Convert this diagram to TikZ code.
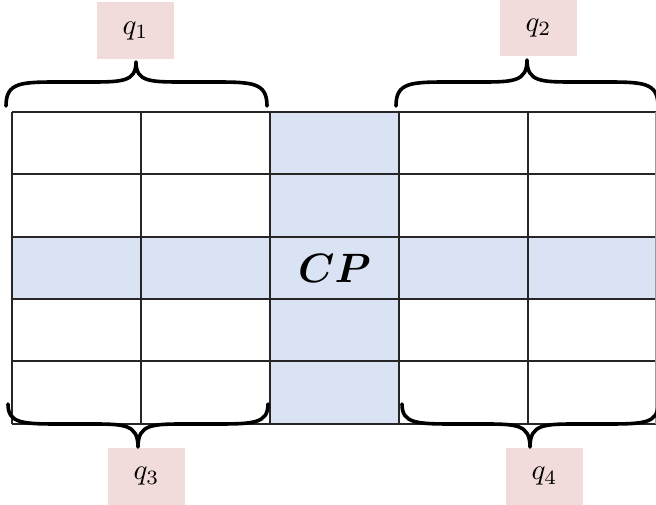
\documentclass[tikz,border=0pt]{standalone}
\usepackage{graphicx}
\usepackage{amsmath}
\usepackage{bm}
\definecolor{cpblue}{HTML}{DAE3F3}
\definecolor{qpink}{HTML}{F2DCDB}
\tikzset{
  gridline/.style={line width=2pt, black!85},
  qlabel/.style={fill=qpink, minimum width=77pt, minimum height=57pt, inner sep=0pt},
  bracepath/.style={line width=3.6pt, line cap=round, line join=round},
}
\newcommand\qtext[1]{\scalebox{2.9}{$#1$}}
% #1 left x, #2 right x, #3 tip x, #4 end y, #5 flat y, #6 tip y
\newcommand\qbrace[6]{%
  \draw[bracepath] (#1,#4) .. controls (#1,#5) and (#1+15,#5) .. (#1+55,#5)
    -- (#3-48,#5) .. controls (#3-14,#5) and (#3,#5) .. (#3,#6)
    .. controls (#3,#5) and (#3+14,#5) .. (#3+48,#5)
    -- (#2-55,#5) .. controls (#2-15,#5) and (#2,#5) .. (#2,#4);}
\begin{document}
\begin{tikzpicture}[x=1pt,y=-1pt]
\useasboundingbox (0,0) rectangle (656,505);
\clip (0,0) rectangle (656,505);
% shading
\fill[cpblue] (270,112) rectangle (399,424);
\fill[cpblue] (12,237) rectangle (680,299);
% grid
\foreach \y in {112,174,237,299,361,424} \draw[gridline] (12,\y) -- (680,\y);
\foreach \x in {12,141,270,399,528} \draw[gridline] (\x,112) -- (\x,424);
\draw[black!40, line width=1pt] (655.5,112) -- (655.5,424);
\node (cp) at (334.5,268) {\scalebox{4.1}{$\bm{CP}$}};
% labels
\node[qlabel] (q1) at (135.5,31) {\qtext{q_1}};
\node[qlabel] (q2) at (538.5,28) {\qtext{q_2}};
\node[qlabel] (q3) at (146.5,476.5) {\qtext{q_3}};
\node[qlabel] (q4) at (544.5,476.5) {\qtext{q_4}};
% braces
\qbrace{6}{267}{136}{106}{82}{62}
\qbrace{396}{658}{527}{106}{82}{60}
\qbrace{8}{268}{138}{404}{424}{447}
\qbrace{402}{658}{530}{404}{424}{447}
\end{tikzpicture}
\end{document}
